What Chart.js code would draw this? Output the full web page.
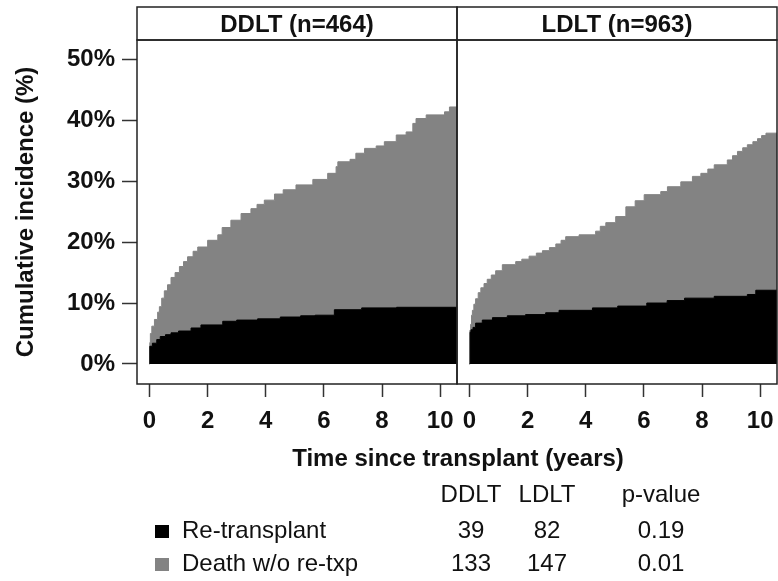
<!DOCTYPE html>
<html>
<head>
<meta charset="utf-8">
<script src="https://cdn.jsdelivr.net/npm/chart.js@4"></script>
<style>
  html, body { margin: 0; padding: 0; background: #fff; }
  #wrap { position: relative; width: 778px; height: 581px; overflow: hidden; }
  #wrap canvas { position: absolute; left: 0; top: 0; }
</style>
</head>
<body>
<div id="wrap">
  <canvas id="ddltChart" width="778" height="581"></canvas>
  <canvas id="ldltChart" width="778" height="581"></canvas>
</div>
<script>
// panel titles
const panelTitles = ['DDLT (n=464)', 'LDLT (n=963)'];

// cumulative incidence, time in years / value in %
// black area = re-transplant, grey top = re-transplant + death
const ddltRetxTime = [0, 0.01, 0.1, 0.25, 0.37, 0.55, 0.74, 1.0, 1.43, 1.77, 2.52, 3.0, 3.72, 4.5, 5.2, 5.7, 6.36, 7.3, 8.5, 10.58];
const ddltRetxPct = [0, 2.9, 3.4, 4.0, 4.5, 4.8, 5.1, 5.4, 5.9, 6.4, 7.0, 7.2, 7.4, 7.7, 7.9, 8.0, 8.9, 9.2, 9.3, 9.3];
const ddltTotalTime = [0, 0.01, 0.03, 0.08, 0.17, 0.28, 0.34, 0.42, 0.51, 0.62, 0.74, 0.88, 1.03, 1.17, 1.31, 1.5, 1.66, 2.0, 2.35, 2.5, 2.8, 3.15, 3.49, 3.7, 3.95, 4.3, 4.6, 5.04, 5.62, 6.13, 6.42, 6.48, 6.9, 7.1, 7.4, 7.8, 8.08, 8.49, 8.83, 9.06, 9.17, 9.52, 10.15, 10.32, 10.58];
const ddltTotalPct = [0, 3.5, 5.0, 6.2, 7.3, 8.5, 9.4, 10.8, 12.0, 13.0, 14.2, 15.0, 16.0, 16.8, 17.6, 18.5, 19.2, 20.3, 21.2, 22.4, 23.6, 24.7, 25.5, 26.2, 26.9, 27.9, 28.6, 29.4, 30.3, 31.3, 32.4, 33.2, 33.6, 34.6, 35.4, 35.8, 36.5, 37.6, 38.1, 39.5, 40.3, 40.9, 41.4, 42.2, 42.2];

const ldltRetxTime = [0, 0.02, 0.05, 0.12, 0.21, 0.44, 0.79, 1.3, 1.93, 2.62, 3.08, 4.23, 5.1, 6.1, 6.8, 7.4, 8.42, 9.56, 9.85, 10.58];
const ldltRetxPct = [0, 5.2, 5.6, 6.0, 6.7, 7.2, 7.6, 7.9, 8.1, 8.4, 8.8, 9.2, 9.5, 10.0, 10.4, 10.8, 11.1, 11.4, 12.1, 12.1];
const ldltTotalTime = [0, 0.01, 0.04, 0.07, 0.1, 0.15, 0.21, 0.3, 0.39, 0.5, 0.61, 0.75, 0.9, 1.13, 1.59, 1.8, 2.05, 2.3, 2.51, 2.75, 2.97, 3.15, 3.31, 3.77, 4.34, 4.5, 4.69, 5.03, 5.38, 5.7, 6.01, 6.58, 6.81, 7.27, 7.67, 7.96, 8.2, 8.42, 8.87, 9.05, 9.22, 9.4, 9.56, 9.75, 9.91, 10.05, 10.2, 10.58];
const ldltTotalPct = [0, 5.5, 6.5, 8.0, 8.8, 9.8, 10.7, 11.7, 12.5, 13.2, 13.9, 14.6, 15.3, 16.3, 16.8, 17.2, 17.7, 18.2, 18.6, 19.1, 19.7, 20.3, 20.9, 21.2, 21.8, 22.6, 23.2, 24.2, 25.8, 26.8, 27.8, 28.3, 29.1, 29.9, 30.8, 31.3, 32.0, 32.7, 33.5, 34.2, 34.9, 35.5, 36.0, 36.5, 37.0, 37.5, 37.9, 37.9];

const xTicks = [0, 2, 4, 6, 8, 10];
const yTicks = [0, 10, 20, 30, 40, 50];

// table under the plot
const tableHead = ['DDLT', 'LDLT', 'p-value'];
const eventNames = ['Re-transplant', 'Death w/o re-txp'];
const ddltCounts = [39, 133];
const ldltCounts = [82, 147];
const pValues = ['0.19', '0.01'];

const FONT = "'Liberation Sans', Arial, Helvetica, sans-serif";
const INK = '#111';
const GREY = '#838383';
Chart.defaults.font.family = FONT;
Chart.defaults.color = INK;

function toPoints(times, values) {
    return times.map((t, i) => ({ x: t, y: values[i] }));
}

// panel frame + strip with the group name
const stripPlugin = {
    id: 'strip',
    afterDraw(chart, args, opts) {
        const a = chart.chartArea;
        const ctx = chart.ctx;
        ctx.save();
        ctx.strokeStyle = '#222';
        ctx.lineWidth = 1.5;
        ctx.strokeRect(a.left, a.top, a.right - a.left, a.bottom - a.top);
        ctx.strokeRect(a.left, 7, a.right - a.left, a.top - 7);
        ctx.fillStyle = INK;
        ctx.font = 'bold 24px ' + FONT;
        ctx.textAlign = 'center';
        ctx.textBaseline = 'alphabetic';
        ctx.fillText(opts.text, (a.left + a.right) / 2, 32);
        ctx.restore();
    }
};

// axis title and counts table at the bottom
const notesPlugin = {
    id: 'notes',
    afterDraw(chart, args, opts) {
        if (!opts.show) return;
        const ctx = chart.ctx;
        ctx.save();
        ctx.fillStyle = INK;
        ctx.textBaseline = 'alphabetic';
        ctx.textAlign = 'center';
        ctx.font = 'bold 24px ' + FONT;
        ctx.fillText('Time since transplant (years)', 458, 466);

        ctx.font = '24px ' + FONT;
        const cols = [471, 547, 661];
        tableHead.forEach((h, i) => ctx.fillText(h, cols[i], 502));

        const rows = [538, 571];
        const swatches = ['#000', GREY];
        eventNames.forEach((name, i) => {
            ctx.fillStyle = swatches[i];
            ctx.fillRect(155, rows[i] - 13, 14, 13);
            ctx.fillStyle = INK;
            ctx.textAlign = 'left';
            ctx.fillText(name, 182, rows[i]);
            ctx.textAlign = 'center';
            ctx.fillText(String(ddltCounts[i]), cols[0], rows[i]);
            ctx.fillText(String(ldltCounts[i]), cols[1], rows[i]);
            ctx.fillText(pValues[i], cols[2], rows[i]);
        });
        ctx.restore();
    }
};

function makePanel(canvasId, retx, total, title, isLeft) {
    const yScale = {
        type: 'linear',
        min: -3.3,
        max: 53.2,
        display: isLeft,
        afterBuildTicks: s => { s.ticks = yTicks.map(v => ({ value: v })); },
        grid: { drawOnChartArea: false, drawTicks: true, tickLength: 15, tickColor: '#333', tickWidth: 1.5 },
        border: { display: false },
        ticks: { font: { size: 24, weight: 'bold' }, padding: 7, color: INK, callback: v => v + '%' },
        title: {
            display: true,
            text: 'Cumulative incidence (%)',
            font: { size: 24, weight: 'bold' },
            color: INK,
            padding: { top: 12, bottom: 0 }
        }
    };
    if (isLeft) yScale.afterFit = s => { s.width = 137; s.paddingTop = 0; s.paddingBottom = 0; };

    return new Chart(document.getElementById(canvasId), {
        type: 'line',
        data: {
            datasets: [
                {
                    label: 'Re-transplant',
                    data: toPoints(retx[0], retx[1]),
                    stepped: true,
                    borderColor: '#000',
                    backgroundColor: '#000',
                    borderWidth: 1,
                    pointRadius: 0,
                    fill: 'origin'
                },
                {
                    label: 'Death w/o re-txp',
                    data: toPoints(total[0], total[1]),
                    stepped: true,
                    borderColor: GREY,
                    backgroundColor: GREY,
                    borderWidth: 1,
                    pointRadius: 0,
                    fill: 'origin'
                }
            ]
        },
        options: {
            responsive: false,
            animation: false,
            events: [],
            layout: {
                padding: isLeft
                    ? { left: 0, right: 321, top: 40, bottom: 0 }
                    : { left: 457, right: 1, top: 40, bottom: 0 }
            },
            plugins: {
                legend: { display: false },
                tooltip: { enabled: false },
                strip: { text: title },
                notes: { show: isLeft }
            },
            scales: {
                x: {
                    type: 'linear',
                    min: -0.43,
                    max: 10.58,
                    afterBuildTicks: s => { s.ticks = xTicks.map(v => ({ value: v })); },
                    afterFit: s => { s.height = 197; s.paddingLeft = 0; s.paddingRight = 0; },
                    grid: { drawOnChartArea: false, drawTicks: true, tickLength: 13, tickColor: '#333', tickWidth: 1.5 },
                    border: { display: false },
                    ticks: { font: { size: 24, weight: 'bold' }, padding: 10, color: INK, maxRotation: 0, autoSkip: false }
                },
                y: yScale
            }
        },
        plugins: [stripPlugin, notesPlugin]
    });
}

makePanel('ddltChart', [ddltRetxTime, ddltRetxPct], [ddltTotalTime, ddltTotalPct], panelTitles[0], true);
makePanel('ldltChart', [ldltRetxTime, ldltRetxPct], [ldltTotalTime, ldltTotalPct], panelTitles[1], false);
</script>
</body>
</html>
